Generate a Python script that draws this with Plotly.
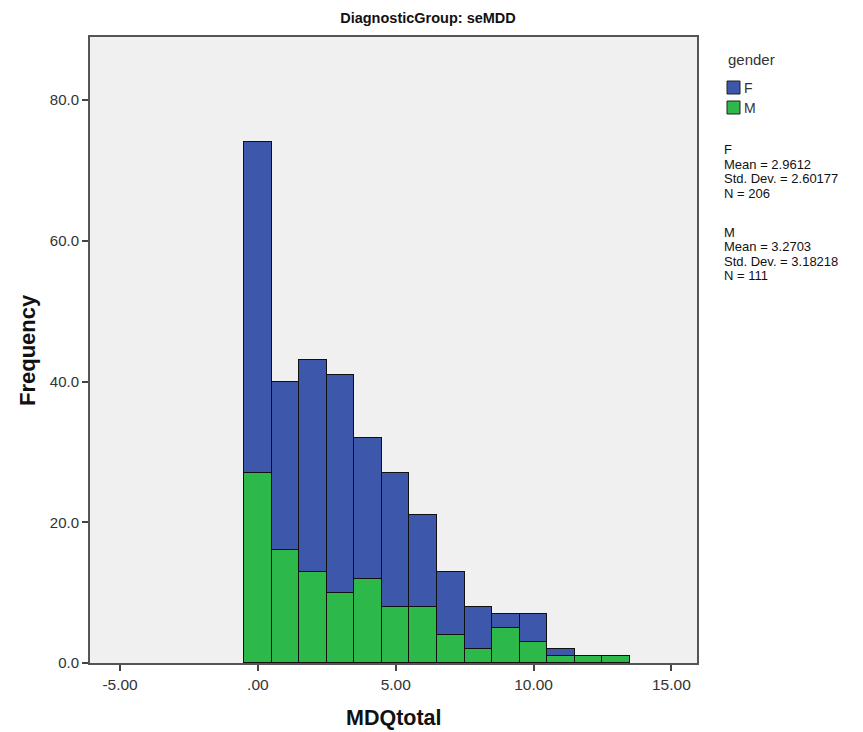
import plotly.graph_objects as go

bins = [0, 1, 2, 3, 4, 5, 6, 7, 8, 9, 10, 11, 12, 13]
freq_M = [27, 16, 13, 10, 12, 8, 8, 4, 2, 5, 3, 1, 1, 1]
freq_F = [47, 24, 30, 31, 20, 19, 13, 9, 6, 2, 4, 1, 0, 0]
x_ticks = [-5, 0, 5, 10, 15]
x_ticktext = ["-5.00", ".00", "5.00", "10.00", "15.00"]
y_ticks = [0, 20, 40, 60, 80]
y_ticktext = ["0.0", "20.0", "40.0", "60.0", "80.0"]
legend_names = ["F", "M"]
stats_F = ["F", "Mean = 2.9612", "Std. Dev. = 2.60177", "N = 206"]
stats_M = ["M", "Mean = 3.2703", "Std. Dev. = 3.18218", "N = 111"]

BLUE = "#3D57AB"
GREEN = "#2DB84A"
FONT = "Liberation Sans, Arial, sans-serif"

# plot area in pixels
L, R, T, B = 90, 697, 37, 663
W, H = R - L, B - T


def px(x):
    return (x - L) / W


def py(y):
    return (B - y) / H


fig = go.Figure()
fig.add_trace(go.Bar(x=bins, y=freq_M, width=1, name="M", showlegend=False,
                     marker=dict(color=GREEN, line=dict(color="#111111", width=1))))
fig.add_trace(go.Bar(x=bins, y=freq_F, width=1, name="F", showlegend=False,
                     marker=dict(color=BLUE, line=dict(color="#111111", width=1))))

annotations = []
shapes = []

# axis titles
annotations.append(dict(text="<b>MDQtotal</b>", xref="paper", yref="paper", x=px(394), y=py(718),
                        xanchor="center", yanchor="middle", showarrow=False,
                        font=dict(size=21.5, color="#111111", family=FONT)))
annotations.append(dict(text="<b>Frequency</b>", xref="paper", yref="paper", x=px(27), y=py(350),
                        xanchor="center", yanchor="middle", showarrow=False, textangle=-90,
                        font=dict(size=22, color="#111111", family=FONT)))

# legend (drawn manually to match SPSS layout)
annotations.append(dict(text="gender", xref="paper", yref="paper", x=px(726), y=py(60),
                        xanchor="left", yanchor="middle", showarrow=False,
                        font=dict(size=15, color="#333333", family=FONT)))
for i, (name, col) in enumerate(zip(legend_names, [BLUE, GREEN])):
    yc = 87.5 + 20 * i
    shapes.append(dict(type="rect", xref="paper", yref="paper",
                       x0=px(727), x1=px(740), y0=py(yc - 6.5), y1=py(yc + 6.5),
                       fillcolor=col, line=dict(color="#222222", width=1)))
    annotations.append(dict(text=name, xref="paper", yref="paper", x=px(742), y=py(yc),
                            xanchor="left", yanchor="middle", showarrow=False,
                            font=dict(size=14, color="#333333", family=FONT)))

# statistics text
for block, y0 in ((stats_F, 150), (stats_M, 232)):
    for j, line in enumerate(block):
        annotations.append(dict(text=line, xref="paper", yref="paper", x=px(723), y=py(y0 + 14.5 * j),
                                xanchor="left", yanchor="middle", showarrow=False, borderpad=0,
                                font=dict(size=13, color="#111111", family=FONT)))

fig.update_layout(
    width=863, height=732,
    barmode="stack", bargap=0,
    showlegend=False,
    paper_bgcolor="white", plot_bgcolor="#F0F0F0",
    margin=dict(l=L, r=863 - R, t=T, b=732 - B),
    font=dict(family=FONT, color="#222222"),
    title=dict(text="<b>DiagnosticGroup: seMDD</b>", x=428 / 863, xanchor="center",
               y=1 - 18 / 732, yanchor="middle", font=dict(size=14.5, color="#111111", family=FONT)),
    xaxis=dict(range=[-6.09, 15.93], tickvals=x_ticks, ticktext=x_ticktext,
               ticks="outside", ticklen=6, tickwidth=1.5, tickcolor="#444444",
               showgrid=False, zeroline=False, showline=True, linecolor="#555555",
               linewidth=2, mirror=True, tickfont=dict(size=15.5, color="#333333"),
               automargin=False),
    yaxis=dict(range=[0, 88.97], tickvals=y_ticks, ticktext=y_ticktext,
               ticks="outside", ticklen=6, tickwidth=1.5, tickcolor="#444444",
               showgrid=False, zeroline=False, showline=True, linecolor="#555555",
               linewidth=2, mirror=True, tickfont=dict(size=15, color="#333333"),
               automargin=False),
    annotations=annotations,
    shapes=shapes,
)

fig.write_html("out.html")
